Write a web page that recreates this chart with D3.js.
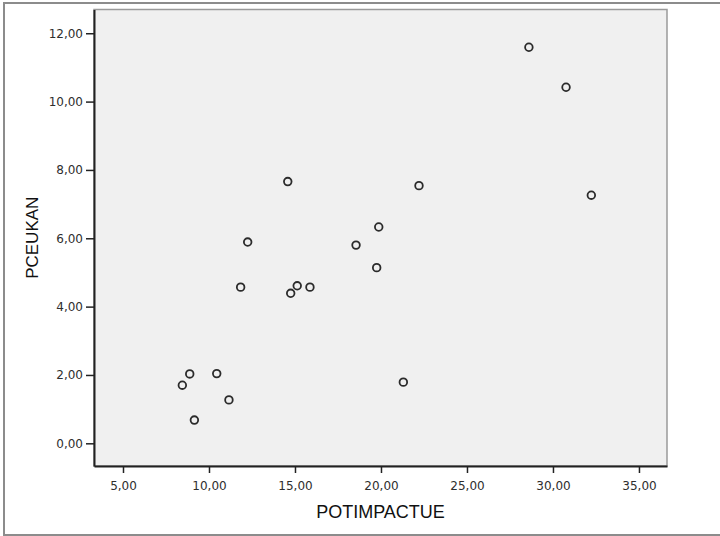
<!DOCTYPE html>
<html>
<head>
<meta charset="utf-8">
<script src="https://cdn.jsdelivr.net/npm/d3@7"></script>
<style>
  body { margin: 0; background: #fff; }
  svg { display: block; }
</style>
</head>
<body>
<div id="chart"></div>
<script>
// data
const potImpactue = [28.60, 30.76, 32.23, 22.21, 14.58, 19.87, 12.25, 18.55, 19.75, 11.84,
                     15.13, 14.75, 15.87, 21.30, 8.88, 10.45, 8.45, 11.16, 9.15];
const pceukan = [11.59, 10.42, 7.26, 7.54, 7.66, 6.33, 5.89, 5.80, 5.14, 4.57,
                 4.61, 4.39, 4.57, 1.79, 2.03, 2.04, 1.70, 1.27, 0.68];
const xTicks = [5, 10, 15, 20, 25, 30, 35];
const yTicks = [0, 2, 4, 6, 8, 10, 12];

const W = 720, H = 536;
const plot = { left: 94, top: 9.5, right: 667, bottom: 466 };

const svg = d3.select('#chart')
    .append('svg')
    .attr('width', W)
    .attr('height', H);

// outer frame (right edge is cut off in the original)
svg.append('rect')
    .attr('x', 4)
    .attr('y', 3)
    .attr('width', 740)
    .attr('height', 532)
    .attr('fill', 'none')
    .attr('stroke', '#8c8c8c')
    .attr('stroke-width', 2);

const x = d3.scaleLinear().domain([3.314, 36.63]).range([plot.left, plot.right]);
const y = d3.scaleLinear().domain([-0.664, 12.695]).range([plot.bottom, plot.top]);

const fmt = d3.formatLocale({ decimal: ',', thousands: '.', grouping: [3], currency: ['', ''] }).format('.2f');

// plot background
svg.append('rect')
    .attr('x', plot.left)
    .attr('y', plot.top)
    .attr('width', plot.right - plot.left)
    .attr('height', plot.bottom - plot.top)
    .attr('fill', '#f0f0f0')
    .attr('stroke', '#9a9a9a')
    .attr('stroke-width', 1.5);

// axes
const xAxis = svg.append('g')
    .attr('transform', `translate(0,${plot.bottom})`)
    .call(d3.axisBottom(x).tickValues(xTicks).tickFormat(fmt).tickSize(7).tickPadding(8).tickSizeOuter(0));

const yAxis = svg.append('g')
    .attr('transform', `translate(${plot.left},0)`)
    .call(d3.axisLeft(y).tickValues(yTicks).tickFormat(fmt).tickSize(8).tickPadding(3).tickSizeOuter(0));

[xAxis, yAxis].forEach(g => {
    g.select('.domain').attr('stroke', '#222').attr('stroke-width', 2);
    g.selectAll('.tick line').attr('stroke', '#222').attr('stroke-width', 1.5);
    g.selectAll('.tick text')
        .attr('fill', '#2e2e2e')
        .style('font-family', '"DejaVu Sans", Verdana, sans-serif')
        .style('font-size', '12px');
});

// points
svg.append('g')
    .selectAll('circle')
    .data(potImpactue.map((d, i) => [d, pceukan[i]]))
    .enter()
    .append('circle')
    .attr('cx', d => x(d[0]))
    .attr('cy', d => y(d[1]))
    .attr('r', 3.8)
    .attr('fill', 'none')
    .attr('stroke', '#2b2b2b')
    .attr('stroke-width', 1.8);

// axis titles
svg.append('text')
    .attr('x', (plot.left + plot.right) / 2)
    .attr('y', 518)
    .attr('text-anchor', 'middle')
    .attr('fill', '#111')
    .style('font-family', '"Liberation Sans", Arial, sans-serif')
    .style('font-size', '18px')
    .text('POTIMPACTUE');

svg.append('text')
    .attr('transform', `translate(38,${(plot.top + plot.bottom) / 2}) rotate(-90)`)
    .attr('text-anchor', 'middle')
    .attr('fill', '#111')
    .style('font-family', '"Liberation Sans", Arial, sans-serif')
    .style('font-size', '17px')
    .text('PCEUKAN');
</script>
</body>
</html>
